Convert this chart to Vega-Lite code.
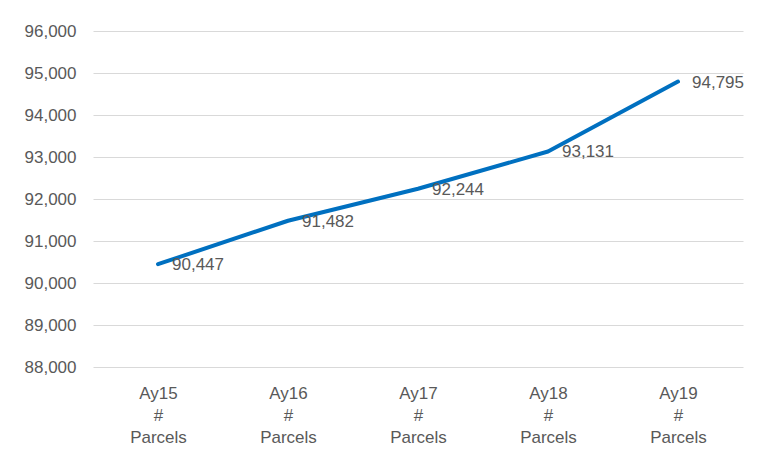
{
  "$schema": "https://vega.github.io/schema/vega-lite/v6.json",
  "width": 650,
  "height": 336,
  "autosize": {"type": "none"},
  "padding": {"left": 93, "top": 31, "right": 14, "bottom": 87},
  "background": "white",
  "config": {
    "view": {"stroke": null},
    "font": "Liberation Sans"
  },
  "data": {
    "values": [
      {"period": "Ay15|#|Parcels", "parcels": 90447},
      {"period": "Ay16|#|Parcels", "parcels": 91482},
      {"period": "Ay17|#|Parcels", "parcels": 92244},
      {"period": "Ay18|#|Parcels", "parcels": 93131},
      {"period": "Ay19|#|Parcels", "parcels": 94795}
    ]
  },
  "encoding": {
    "x": {
      "field": "period",
      "type": "ordinal",
      "sort": null,
      "scale": {"type": "point", "padding": 0.5},
      "axis": {
        "title": null,
        "labelAngle": 0,
        "labelExpr": "split(datum.label, '|')",
        "labelLineHeight": 22,
        "labelFontSize": 17,
        "labelColor": "#595959",
        "labelPadding": 18,
        "labelBaseline": "top",
        "ticks": false,
        "domain": false,
        "grid": false
      }
    },
    "y": {
      "field": "parcels",
      "type": "quantitative",
      "scale": {"domain": [88000, 96000], "nice": false, "zero": false},
      "axis": {
        "title": null,
        "values": [88000, 89000, 90000, 91000, 92000, 93000, 94000, 95000, 96000],
        "format": ",d",
        "labelFontSize": 17,
        "labelColor": "#595959",
        "labelPadding": 17,
        "ticks": false,
        "domain": false,
        "gridColor": "#d9d9d9",
        "gridWidth": 1
      }
    }
  },
  "layer": [
    {
      "mark": {"type": "line", "color": "#0070C0", "strokeWidth": 4, "strokeCap": "round", "strokeJoin": "round"}
    },
    {
      "mark": {"type": "text", "align": "left", "baseline": "middle", "dx": 14, "dy": 1, "fontSize": 17, "color": "#595959"},
      "encoding": {
        "text": {"field": "parcels", "type": "quantitative", "format": ",d"}
      }
    }
  ]
}
